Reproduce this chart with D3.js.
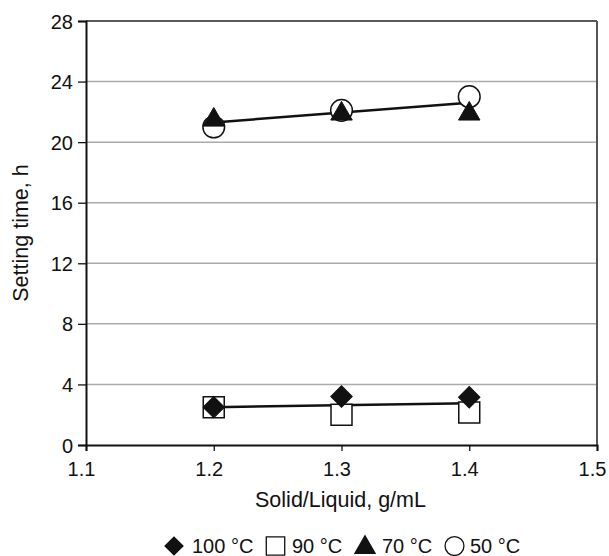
<!DOCTYPE html>
<html><head><meta charset="utf-8">
<script src="https://cdn.jsdelivr.net/npm/d3@7"></script>
<style>body{margin:0;background:#fff}svg{display:block;font-family:"Liberation Sans",Arial,sans-serif}</style>
</head><body>
<svg id="c" width="609" height="556"></svg>
<script>
const xValues = [1.2, 1.3, 1.4];
const t100 = [2.5, 3.2, 3.15];
const t90 = [2.5, 2.0, 2.15];
const t70 = [21.6, 22.0, 22.0];
const t50 = [21.0, 22.1, 23.0];
const lowTrendX = [1.2, 1.4];
const lowTrendY = [2.5, 2.75];
const highTrendX = [1.2, 1.4];
const highTrendY = [21.3, 22.6];
const xTicks = [1.1, 1.2, 1.3, 1.4, 1.5];
const yTicks = [0, 4, 8, 12, 16, 20, 24, 28];
const legendLabels = ["100 °C", "90 °C", "70 °C", "50 °C"];

const svg = d3.select("#c");
const x = d3.scaleLinear().domain([1.1, 1.5]).range([86, 597]);
const y = d3.scaleLinear().domain([0, 28]).range([445, 21]);

// gridlines
svg.append("g").selectAll("line").data(yTicks.filter(d => d > 0 && d < 28)).join("line")
  .attr("x1", x(1.1)).attr("x2", x(1.5)).attr("y1", d => y(d)).attr("y2", d => y(d))
  .attr("stroke", "#aaa").attr("stroke-width", 1.5);
// top & right border
svg.append("line").attr("x1", x(1.1)).attr("x2", x(1.5)).attr("y1", y(28)).attr("y2", y(28))
  .attr("stroke", "#222").attr("stroke-width", 1.5);
svg.append("line").attr("x1", x(1.5)).attr("x2", x(1.5)).attr("y1", y(28)).attr("y2", y(0))
  .attr("stroke", "#555").attr("stroke-width", 2);

// axes
const yAxis = d3.axisLeft(y).tickValues(yTicks).tickSize(8).tickPadding(5).tickFormat(d3.format("d"));
const gy = svg.append("g").attr("transform", `translate(${x(1.1)},0)`).call(yAxis);
const xAxis = d3.axisBottom(x).tickValues(xTicks).tickSize(6).tickPadding(11).tickFormat(d3.format(".1f"));
const gx = svg.append("g").attr("transform", `translate(0,${y(0)})`).call(xAxis);
[gy, gx].forEach(g => {
  g.select(".domain").attr("stroke", "#111").attr("stroke-width", 2);
  g.selectAll(".tick line").attr("stroke", "#111").attr("stroke-width", 1.3);
  g.selectAll(".tick text").attr("font-size", 20).attr("fill", "#111").attr("font-family", "Liberation Sans, Arial, sans-serif");
});
gy.selectAll(".tick text").attr("dy", "0.35em");
gx.selectAll(".tick text").attr("dx", -5);

// titles
svg.append("text").attr("x", (x(1.1) + x(1.5)) / 2 - 1).attr("y", 507).attr("text-anchor", "middle")
  .attr("font-size", 21.5).attr("fill", "#111").text("Solid/Liquid, g/mL");
svg.append("text").attr("transform", `translate(28,${y(14)}) rotate(-90)`).attr("text-anchor", "middle")
  .attr("font-size", 21.5).attr("fill", "#111").text("Setting time, h");

// trend lines
const line = d3.line().x(d => x(d[0])).y(d => y(d[1]));
svg.append("path").attr("d", line(d3.zip(lowTrendX, lowTrendY))).attr("fill", "none").attr("stroke", "#111").attr("stroke-width", 2.5);
svg.append("path").attr("d", line(d3.zip(highTrendX, highTrendY))).attr("fill", "none").attr("stroke", "#111").attr("stroke-width", 2.5);

// markers
const sym = (type, size) => d3.symbol().type(type).size(size)();
function drawSeries(vals, type, size, fill, stroke, sw, dyOff, rot) {
  svg.append("g").selectAll("path").data(d3.zip(xValues, vals)).join("path")
    .attr("transform", d => `translate(${x(d[0])},${y(d[1]) + (dyOff || 0)}) rotate(${rot || 0})`)
    .attr("d", sym(type, size)).attr("fill", fill).attr("stroke", stroke).attr("stroke-width", sw);
}
drawSeries(t90, d3.symbolSquare, 440, "#fff", "#111", 1.5);
drawSeries(t100, d3.symbolSquare, 230, "#111", "#111", 1, 0, 45);
drawSeries(t50, d3.symbolCircle, 370, "#fff", "#111", 1.5);
drawSeries(t70, d3.symbolTriangle, 200, "#111", "#111", 1, 2);

// legend
const legendTypes = [d3.symbolSquare, d3.symbolSquare, d3.symbolTriangle, d3.symbolCircle];
const legendFill = ["#111", "#fff", "#111", "#fff"];
const legendSize = [160, 340, 175, 280];
const legendRot = [45, 0, 0, 0];
const legendX = [174, 275.5, 365, 454.5];
const legendTextX = [192, 292, 382, 470];
const lg = svg.append("g");
legendLabels.forEach((lab, i) => {
  lg.append("path").attr("transform", `translate(${legendX[i]},${546 + (i === 2 ? 1.5 : 0)}) rotate(${legendRot[i]})`)
    .attr("d", sym(legendTypes[i], legendSize[i])).attr("fill", legendFill[i]).attr("stroke", "#111").attr("stroke-width", 1.3);
  lg.append("text").attr("x", legendTextX[i]).attr("y", 553).attr("font-size", 20).attr("fill", "#111").text(lab);
});
</script>
</body></html>
